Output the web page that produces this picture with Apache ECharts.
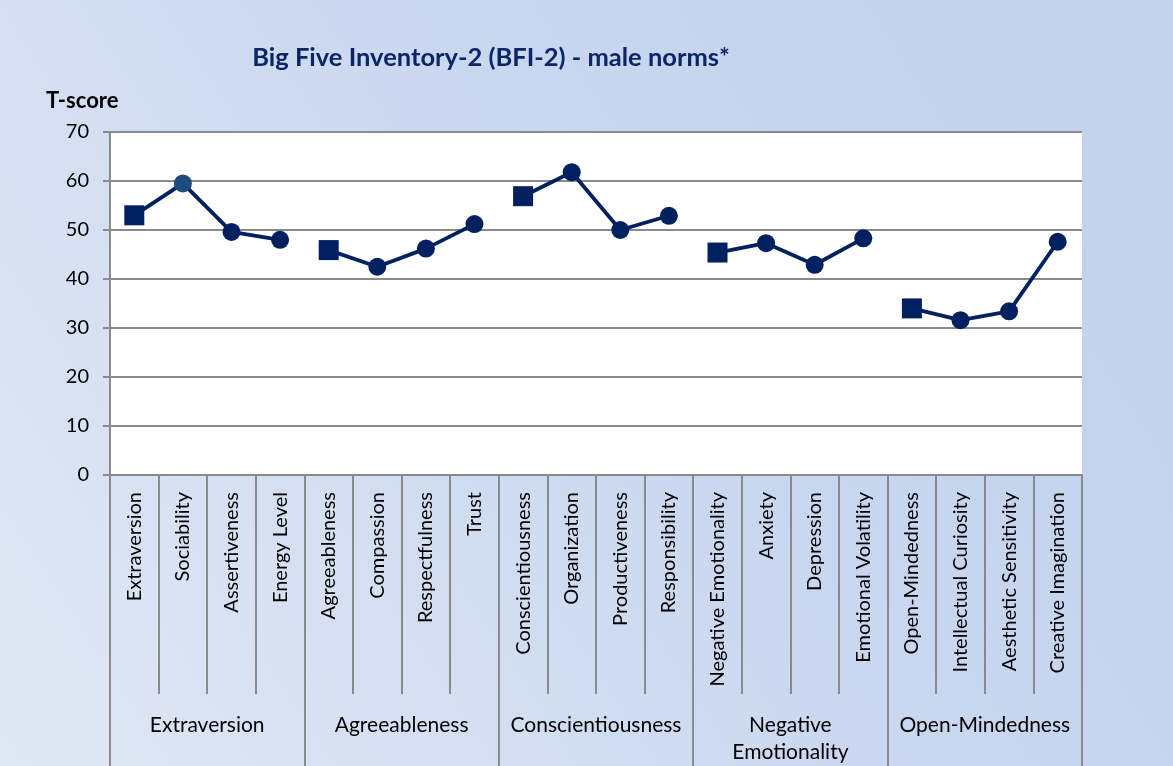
<!DOCTYPE html>
<html>
<head>
<meta charset="utf-8">
<script src="https://cdn.jsdelivr.net/npm/echarts@6/dist/echarts.min.js"></script>
<style>
html,body{margin:0;padding:0;}
#chart{width:1173px;height:766px;}
</style>
</head>
<body>
<div id="chart"></div>
<script>
const categories = ["Extraversion","Sociability","Assertiveness","Energy Level",
  "Agreeableness","Compassion","Respectfulness","Trust",
  "Conscientiousness","Organization","Productiveness","Responsibility",
  "Negative Emotionality","Anxiety","Depression","Emotional Volatility",
  "Open-Mindedness","Intellectual Curiosity","Aesthetic Sensitivity","Creative Imagination"];
const groups = ["Extraversion","Agreeableness","Conscientiousness","Negative\nEmotionality","Open-Mindedness"];
const values = [53.0, 59.5, 49.6, 48.0,
  45.9, 42.5, 46.2, 51.2,
  56.9, 61.8, 50.0, 52.9,
  45.4, 47.3, 42.9, 48.3,
  34.0, 31.6, 33.4, 47.6];
const yTicks = [0, 10, 20, 30, 40, 50, 60, 70];

const FONT = 'Lato';
const NAVY = '#002060';
const GRAY = '#8a8a8a';
const perGroup = categories.length / groups.length;

const series = groups.map((g, gi) => ({
  type: 'line',
  name: g,
  data: categories.map((c, i) => {
    if (Math.floor(i / perGroup) !== gi) return '-';
    const first = i % perGroup === 0;
    const item = { value: values[i], symbol: first ? 'rect' : 'circle', symbolSize: first ? 20 : 18 };
    if (c === 'Sociability') item.itemStyle = { color: '#1F4A7E' };
    return item;
  }),
  lineStyle: { color: NAVY, width: 3.8 },
  itemStyle: { color: NAVY, opacity: 1 },
  showAllSymbol: true,
  connectNulls: false,
  z: 3
}));

const chart = echarts.init(document.getElementById('chart'));
chart.setOption({
  animation: false,
  backgroundColor: {
    type: 'linear', x: 0, y: 1, x2: 1, y2: 0,
    colorStops: [{ offset: 0, color: '#E1E8F5' }, { offset: 0.55, color: '#C9D7EF' }, { offset: 1, color: '#C1D1ED' }]
  },
  title: [
    { text: 'Big Five Inventory-2 (BFI-2) - male norms*', left: 486, top: 40, textAlign: 'center',
      textStyle: { fontFamily: FONT, fontSize: 25.5, fontWeight: 'bold', color: '#0B2566' } },
    { text: 'T-score', left: 41, top: 85,
      textStyle: { fontFamily: FONT, fontSize: 22, fontWeight: 'bold', color: '#000' } }
  ],
  grid: { left: 110, right: 91, top: 132, bottom: 288, show: true, backgroundColor: '#ffffff', borderWidth: 0 },
  xAxis: [
    {
      type: 'category', data: categories, boundaryGap: true, position: 'bottom',
      axisLine: { show: true, lineStyle: { color: GRAY, width: 2 } },
      axisTick: { show: true, interval: 0, length: 219, lineStyle: { color: GRAY, width: 2 } },
      axisLabel: { interval: 0, rotate: 90, margin: 17, fontFamily: FONT, fontSize: 20, color: '#000' },
      splitLine: { show: false }
    },
    {
      type: 'category', data: groups, boundaryGap: true, position: 'bottom',
      axisLine: { show: false },
      axisTick: { show: true, interval: 0, length: 300, lineStyle: { color: GRAY, width: 2 } },
      axisLabel: { interval: 0, margin: 237, lineHeight: 27, fontFamily: FONT, fontSize: 21, color: '#000' },
      splitLine: { show: false }
    }
  ],
  yAxis: {
    type: 'value', min: yTicks[0], max: yTicks[yTicks.length - 1], interval: 10,
    axisLine: { show: true, lineStyle: { color: GRAY, width: 2 } },
    axisTick: { show: true, length: 7, lineStyle: { color: GRAY, width: 2 } },
    axisLabel: { margin: 21, fontFamily: FONT, fontSize: 20, color: '#000' },
    splitLine: { show: true, lineStyle: { color: GRAY, width: 2 } }
  },
  series: series
});
</script>
</body>
</html>
